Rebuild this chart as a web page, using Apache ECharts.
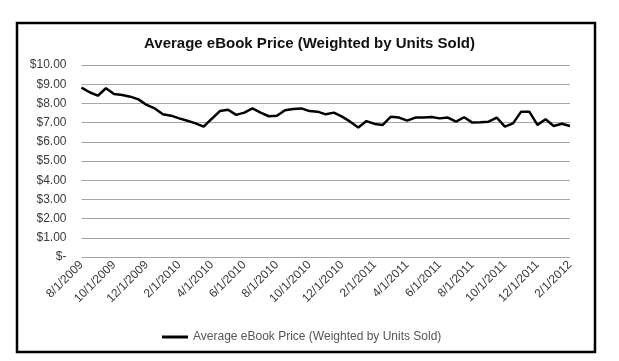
<!DOCTYPE html>
<html>
<head>
<meta charset="utf-8">
<script src="https://cdn.jsdelivr.net/npm/echarts@6/dist/echarts.min.js"></script>
<style>
html,body{margin:0;padding:0;background:#fff;}
#chart{width:619px;height:361px;}
</style>
</head>
<body>
<div id="chart"></div>
<script>
const dates = [
  "8/1/2009","8/15/2009","9/1/2009","9/15/2009","10/1/2009","10/15/2009","11/1/2009","11/15/2009",
  "12/1/2009","12/15/2009","1/1/2010","1/15/2010","2/1/2010","2/15/2010","3/1/2010","3/15/2010",
  "4/1/2010","4/15/2010","5/1/2010","5/15/2010","6/1/2010","6/15/2010","7/1/2010","7/15/2010",
  "8/1/2010","8/15/2010","9/1/2010","9/15/2010","10/1/2010","10/15/2010","11/1/2010","11/15/2010",
  "12/1/2010","12/15/2010","1/1/2011","1/15/2011","2/1/2011","2/15/2011","3/1/2011","3/15/2011",
  "4/1/2011","4/15/2011","5/1/2011","5/15/2011","6/1/2011","6/15/2011","7/1/2011","7/15/2011",
  "8/1/2011","8/15/2011","9/1/2011","9/15/2011","10/1/2011","10/15/2011","11/1/2011","11/15/2011",
  "12/1/2011","12/15/2011","1/1/2012","1/15/2012","2/1/2012"
];
const prices = [
  8.82, 8.58, 8.40, 8.79, 8.49, 8.44, 8.35, 8.21,
  7.92, 7.74, 7.43, 7.36, 7.22, 7.10, 6.96, 6.79,
  7.20, 7.60, 7.67, 7.40, 7.52, 7.74, 7.52, 7.33,
  7.36, 7.64, 7.71, 7.74, 7.60, 7.57, 7.43, 7.52,
  7.31, 7.05, 6.74, 7.08, 6.93, 6.88, 7.31, 7.26,
  7.10, 7.26, 7.26, 7.29, 7.22, 7.26, 7.05, 7.28,
  7.00, 7.02, 7.05, 7.26, 6.79, 6.96, 7.57, 7.57,
  6.88, 7.17, 6.82, 6.94, 6.82
];
const yTickLabels = ["$-","$1.00","$2.00","$3.00","$4.00","$5.00","$6.00","$7.00","$8.00","$9.00","$10.00"];
const seriesName = "Average eBook Price (Weighted by Units Sold)";
const chartTitle = "Average eBook Price (Weighted by Units Sold)";

const chart = echarts.init(document.getElementById('chart'), null, {renderer: 'canvas'});
chart.setOption({
  backgroundColor: '#fff',
  animation: false,
  title: {
    text: chartTitle,
    left: 'center',
    top: 31,
    textStyle: {fontFamily: 'Liberation Sans, Arial, sans-serif', fontSize: 15, fontWeight: 'bold', color: '#111'}
  },
  legend: {
    left: 157,
    top: 326,
    icon: 'rect',
    itemWidth: 26,
    itemHeight: 3,
    data: [seriesName],
    textStyle: {fontFamily: 'Liberation Sans, Arial, sans-serif', fontSize: 12, color: '#555'}
  },
  grid: {left: 81.5, right: 49, top: 65, bottom: 104, containLabel: false},
  xAxis: {
    type: 'category',
    data: dates,
    boundaryGap: false,
    axisLine: {show: false},
    axisTick: {show: false},
    axisLabel: {
      interval: 3,
      rotate: 45,
      margin: 6,
      hideOverlap: false,
      fontFamily: 'Liberation Sans, Arial, sans-serif',
      fontSize: 12,
      color: '#3a3a3a'
    },
    splitLine: {show: false}
  },
  yAxis: {
    type: 'value',
    min: 0,
    max: 10,
    interval: 1,
    axisLine: {show: false},
    axisTick: {show: false},
    axisLabel: {
      margin: 15,
      fontFamily: 'Liberation Sans, Arial, sans-serif',
      fontSize: 12,
      color: '#3a3a3a',
      formatter: function (v) { return yTickLabels[Math.round(v)]; }
    },
    splitLine: {lineStyle: {color: '#a6a6a6', width: 1}}
  },
  series: [{
    name: seriesName,
    type: 'line',
    data: prices,
    showSymbol: false,
    symbol: 'none',
    lineStyle: {color: '#000', width: 2.5},
    itemStyle: {color: '#000'}
  }],
  graphic: [{
    type: 'rect',
    shape: {x: 17, y: 23, width: 578, height: 329},
    style: {fill: 'none', stroke: '#000', lineWidth: 2.5},
    silent: true
  }]
});
</script>
</body>
</html>
